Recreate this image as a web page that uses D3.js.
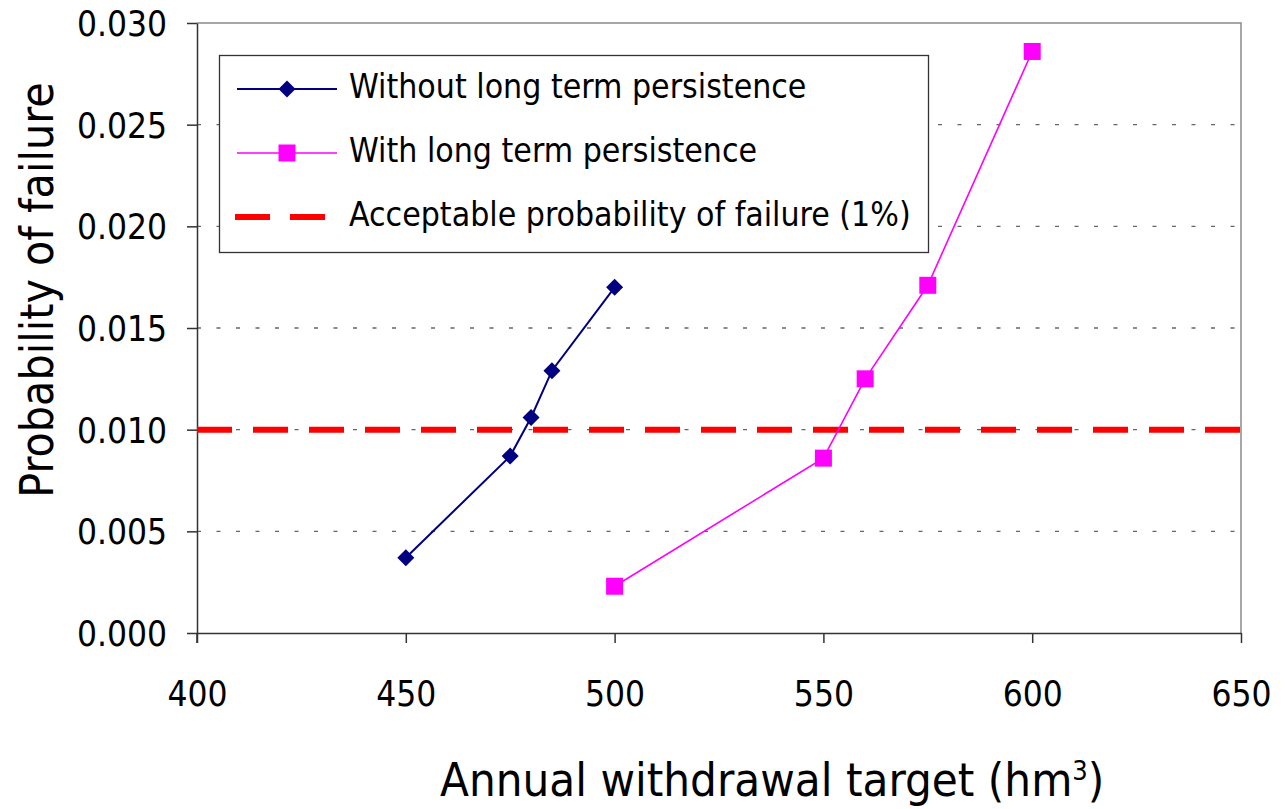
<!DOCTYPE html>
<html>
<head>
<meta charset="utf-8">
<script src="https://cdn.jsdelivr.net/npm/d3@7"></script>
<style>
  body { margin: 0; background: #fff; }
  svg text { font-family: "DejaVu Sans Condensed", "DejaVu Sans", sans-serif; fill: #000; }
</style>
</head>
<body>
<div id="chart"></div>
<script>
// series
const withoutX = [450, 475, 480, 485, 500] ;
const withoutY = [0.0037, 0.0087, 0.0106, 0.0129, 0.0170] ;
const withX    = [500, 550, 560, 575, 600] ;
const withY    = [0.0023, 0.0086, 0.0125, 0.0171, 0.0286] ;
const acceptable = 0.010 ;
const xTicks = [400, 450, 500, 550, 600, 650] ;
const yTicks = [0, 0.005, 0.010, 0.015, 0.020, 0.025, 0.030] ;
const legendLabels = ["Without long term persistence", "With long term persistence", "Acceptable probability of failure (1%)"] ;

let dimensions = {
  width: 1285,
  height: 809,
  margin: {top: 23, right: 44, bottom: 176, left: 197},
}
dimensions.boundedWidth = dimensions.width - dimensions.margin.left - dimensions.margin.right
dimensions.boundedHeight = dimensions.height - dimensions.margin.top - dimensions.margin.bottom

const svg = d3.select("#chart").append("svg")
    .attr("width", dimensions.width)
    .attr("height", dimensions.height)
;
const bounds = svg.append("g")
    .attr("transform", `translate(${dimensions.margin.left},${dimensions.margin.top})`)
;

const xScale = d3.scaleLinear()
  .domain([400, 650])
  .range([0, dimensions.boundedWidth])
;
const yScale = d3.scaleLinear()
  .domain([0, 0.030])
  .range([dimensions.boundedHeight, 0])
;

// dotted grid
bounds.append("g")
  .selectAll("line")
  .data(yTicks.filter(d => d > 0 && d < 0.030))
  .enter().append("line")
    .attr("x1", 0)
    .attr("x2", dimensions.boundedWidth)
    .attr("y1", d => yScale(d))
    .attr("y2", d => yScale(d))
    .attr("stroke", "#666")
    .attr("stroke-width", 1.3)
    .attr("stroke-dasharray", "4,15.5")
;

// grey frame on top and right
bounds.append("path")
  .attr("d", `M0,0H${dimensions.boundedWidth}V${dimensions.boundedHeight}`)
  .attr("fill", "none")
  .attr("stroke", "#8a8a8a")
  .attr("stroke-width", 1.5)
;

// axes
const yAxis = bounds.append("g")
  .call(d3.axisLeft(yScale).tickValues(yTicks).tickFormat(d3.format(".3f")).tickSize(10).tickSizeOuter(0).tickPadding(20))
;
const xAxis = bounds.append("g")
  .attr("transform", `translate(0,${dimensions.boundedHeight})`)
  .call(d3.axisBottom(xScale).tickValues(xTicks).tickFormat(d3.format("d")).tickSize(10).tickSizeOuter(0))
;
[xAxis, yAxis].forEach(ax => {
  ax.select(".domain").attr("stroke", "#333").attr("stroke-width", 1.5) ;
  ax.selectAll(".tick line").attr("stroke", "#333").attr("stroke-width", 1.5) ;
  ax.selectAll("text").style("font-size", "35px").attr("fill", "#000") ;
})
xAxis.selectAll("text").attr("y", 73).attr("dy", null) ;
yAxis.selectAll("text").attr("dy", "0.36em") ;
// left axis continues down to the tick length
yAxis.append("line")
  .attr("x1", 0).attr("x2", 0)
  .attr("y1", dimensions.boundedHeight).attr("y2", dimensions.boundedHeight + 10)
  .attr("stroke", "#333").attr("stroke-width", 1.5)
;

// acceptable level
bounds.append("line")
  .attr("x1", 0)
  .attr("x2", dimensions.boundedWidth)
  .attr("y1", yScale(acceptable))
  .attr("y2", yScale(acceptable))
  .attr("stroke", "#ff0000")
  .attr("stroke-width", 6)
  .attr("stroke-dasharray", "35,21")
;

const lineGen = d3.line()
  .x(d => xScale(d[0]))
  .y(d => yScale(d[1]))
;
const withoutPts = d3.zip(withoutX, withoutY) ;
const withPts = d3.zip(withX, withY) ;

bounds.append("path")
  .datum(withoutPts)
  .attr("d", lineGen)
  .attr("fill", "none")
  .attr("stroke", "#000080")
  .attr("stroke-width", 2)
;
bounds.append("path")
  .datum(withPts)
  .attr("d", lineGen)
  .attr("fill", "none")
  .attr("stroke", "#ff00ff")
  .attr("stroke-width", 1.6)
;

const diamond = (s) => `M0,${-s}L${s},0L0,${s}L${-s},0Z` ;
bounds.append("g")
  .selectAll("path")
  .data(withoutPts)
  .enter().append("path")
    .attr("d", diamond(8.5))
    .attr("transform", d => `translate(${xScale(d[0])},${yScale(d[1])})`)
    .attr("fill", "#000080")
;
bounds.append("g")
  .selectAll("rect")
  .data(withPts)
  .enter().append("rect")
    .attr("x", d => xScale(d[0]) - 8.5)
    .attr("y", d => yScale(d[1]) - 8.5)
    .attr("width", 17)
    .attr("height", 17)
    .attr("fill", "#ff00ff")
;

// legend
const legend = svg.append("g") ;
legend.append("rect")
  .attr("x", 219.5).attr("y", 55.5)
  .attr("width", 709).attr("height", 197)
  .attr("fill", "#fff")
  .attr("stroke", "#333")
  .attr("stroke-width", 1.3)
;
const rowY = [89, 153, 217] ;
legendLabels.forEach((lab, i) => {
  const g = legend.append("g").attr("transform", `translate(0,${rowY[i]})`) ;
  if (i == 0) {
    g.append("line").attr("x1", 237).attr("x2", 337).attr("stroke", "#000080").attr("stroke-width", 2) ;
    g.append("path").attr("d", diamond(8.5)).attr("transform", "translate(287,0)").attr("fill", "#000080") ;
  } else if (i == 1) {
    g.append("line").attr("x1", 237).attr("x2", 337).attr("stroke", "#ff00ff").attr("stroke-width", 1.6) ;
    g.append("rect").attr("x", 278.5).attr("y", -8.5).attr("width", 17).attr("height", 17).attr("fill", "#ff00ff") ;
  } else {
    g.append("line").attr("x1", 235).attr("x2", 330).attr("stroke", "#ff0000").attr("stroke-width", 6).attr("stroke-dasharray", "35,20") ;
  }
  g.append("text")
    .attr("x", 349)
    .attr("y", 9)
    .style("font-size", "33.5px")
    .text(lab)
  ;
}) ;

// axis titles
const xTitle = svg.append("text")
  .attr("x", 440)
  .attr("y", 796)
  .style("font-size", "47px")
;
xTitle.append("tspan").text("Annual withdrawal target (hm") ;
xTitle.append("tspan").attr("dy", -16).style("font-size", "27px").text("3") ;
xTitle.append("tspan").attr("dy", 16).text(")") ;

svg.append("text")
  .attr("transform", "translate(53,290) rotate(-90)")
  .attr("text-anchor", "middle")
  .style("font-size", "46px")
  .text("Probability of failure")
;
</script>
</body>
</html>
